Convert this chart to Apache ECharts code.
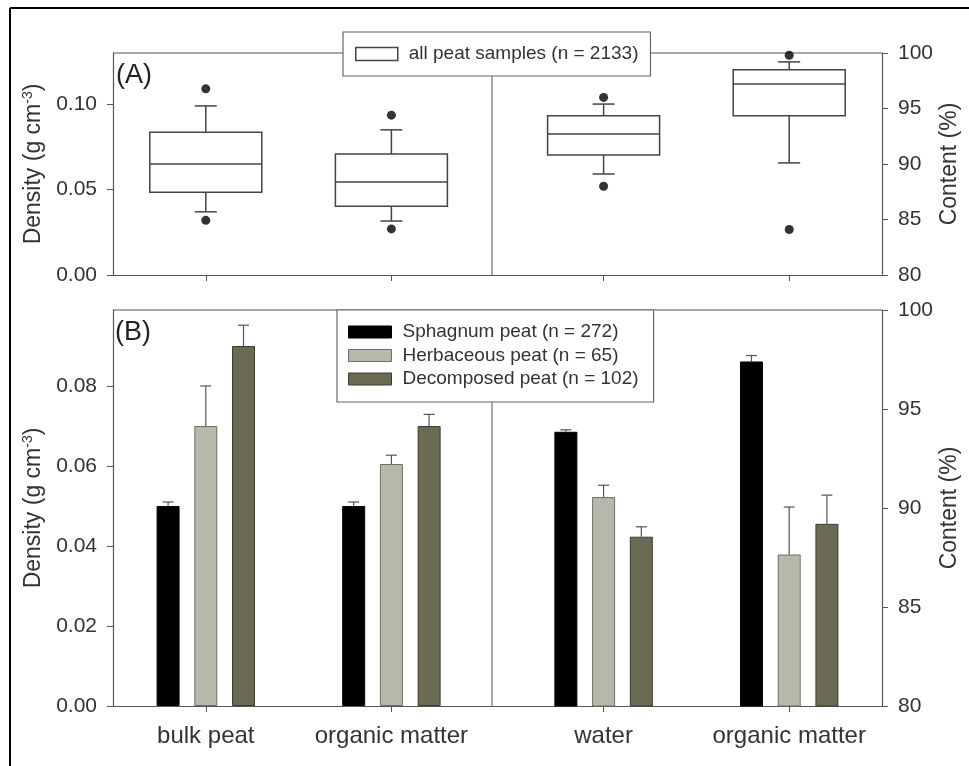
<!DOCTYPE html>
<html>
<head>
<meta charset="utf-8">
<script src="https://cdn.jsdelivr.net/npm/echarts@6/dist/echarts.min.js"></script>
<style>
  html, body { margin: 0; padding: 0; background: #fff; }
  #chart { width: 969px; height: 766px; }
</style>
</head>
<body>
<div id="chart"></div>
<script>
// ---- data -------------------------------------------------------------
const densityCats = ['bulk peat', 'organic matter'];
const contentCats = ['water', 'organic matter'];
const densityPos = [1, 3];   // group positions on the density half (0..5)
const contentPos = [2, 4];   // group positions on the content half (0..5)

// box statistics: [lower whisker, Q1, median, Q3, upper whisker]
const densityBox = [
  [0.037, 0.0484, 0.065, 0.0836, 0.099],
  [0.0316, 0.0402, 0.0544, 0.0708, 0.085]
];
const densityOutliers = [[0.032, 0.109], [0.027, 0.0936]];
const contentBox = [
  [89.1, 90.8, 92.7, 94.35, 95.4],
  [90.1, 94.35, 97.2, 98.5, 99.2]
];
const contentOutliers = [[88.0, 96.0], [84.1, 99.8]];

const boxName = 'all peat samples (n = 2133)';
const groupNames = ['Sphagnum peat (n = 272)', 'Herbaceous peat (n = 65)', 'Decomposed peat (n = 102)'];

const sphagnumDensity = [0.050, 0.050];
const sphagnumDensityErr = [0.001, 0.001];
const herbaceousDensity = [0.070, 0.0605];
const herbaceousDensityErr = [0.010, 0.0022];
const decomposedDensity = [0.090, 0.070];
const decomposedDensityErr = [0.0052, 0.0029];

const sphagnumContent = [93.85, 97.4];
const sphagnumContentErr = [0.1, 0.3];
const herbaceousContent = [90.55, 87.65];
const herbaceousContentErr = [0.6, 2.4];
const decomposedContent = [88.55, 89.2];
const decomposedContentErr = [0.5, 1.45];

const densityTicksTop = [0, 0.05, 0.10];
const densityTicksBottom = [0, 0.02, 0.04, 0.06, 0.08];

// ---- layout & style ---------------------------------------------------
const PLOT_L = 113, PLOT_R = 882, HALF_W = 464;
const TOP_Y = 53, TOP_H = 222;
const BOT_Y = 310, BOT_H = 396;
const DIVIDER_X = 492;
const AXIS_COLOR = '#555';
const TEXT_COLOR = '#333';
const FONT = 'Liberation Sans, Arial, sans-serif';
const BOX_W = 112, CAP_W = 22, ERR_CAP_W = 11;
const BAR_W = 23, BAR_GAP = 0.64;
const BAR_STEP = BAR_W * (1 + BAR_GAP);
const barColors = ['#000000', '#b8b8aa', '#6b6b53'];
const barBorders = ['#000000', '#6e6e66', '#3c3c2e'];

const chart = echarts.init(document.getElementById('chart'), null, { renderer: 'canvas' });

function grid(left, top, height) {
  return { left: left, top: top, width: HALF_W, height: height, containLabel: false };
}

function xAxis(gridIndex, pos, labels) {
  return {
    type: 'value', gridIndex: gridIndex, min: 0, max: 5,
    splitLine: { show: false },
    axisLine: { show: true, onZero: false, lineStyle: { color: AXIS_COLOR, width: 1.2 } },
    axisTick: { show: true, customValues: pos, length: 6, lineStyle: { color: AXIS_COLOR } },
    axisLabel: {
      show: !!labels, customValues: pos, margin: 18,
      fontSize: 24, color: TEXT_COLOR, fontFamily: FONT,
      formatter: v => labels ? labels[pos.indexOf(v)] : ''
    }
  };
}

function densityAxis(gridIndex, max, ticks) {
  return {
    type: 'value', gridIndex: gridIndex, position: 'left', min: 0, max: max,
    name: 'Density (g cm{sup|-3})', nameLocation: 'middle', nameGap: 66,
    nameTextStyle: {
      fontSize: 23, color: TEXT_COLOR, fontFamily: FONT,
      rich: { sup: { fontSize: 14, color: TEXT_COLOR, fontFamily: FONT, padding: [0, 0, 12, 0] } }
    },
    splitLine: { show: false },
    axisLine: { show: true, onZero: false, lineStyle: { color: AXIS_COLOR, width: 1.2 } },
    axisTick: { show: true, customValues: ticks, length: 6, lineStyle: { color: AXIS_COLOR } },
    axisLabel: { customValues: ticks, margin: 16, fontSize: 21, color: TEXT_COLOR, fontFamily: FONT,
      formatter: v => v.toFixed(2) }
  };
}

function contentAxis(gridIndex) {
  return {
    type: 'value', gridIndex: gridIndex, position: 'right', min: 80, max: 100, interval: 5,
    name: 'Content (%)', nameLocation: 'middle', nameGap: 56, nameRotate: 90,
    nameTextStyle: { fontSize: 23, color: TEXT_COLOR, fontFamily: FONT },
    splitLine: { show: false },
    axisLine: { show: true, onZero: false, lineStyle: { color: AXIS_COLOR, width: 1.2 } },
    axisTick: { show: true, length: 6, lineStyle: { color: AXIS_COLOR } },
    axisLabel: { margin: 16, fontSize: 21, color: TEXT_COLOR, fontFamily: FONT }
  };
}

// box-and-whisker glyph built from the axis scales
function renderBox(params, api) {
  const x = api.value(0);
  const lo = api.coord([x, api.value(1)]);
  const q1 = api.coord([x, api.value(2)]);
  const md = api.coord([x, api.value(3)]);
  const q3 = api.coord([x, api.value(4)]);
  const hi = api.coord([x, api.value(5)]);
  const cx = lo[0];
  const st = { stroke: '#444', lineWidth: 1.5, fill: null };
  return {
    type: 'group',
    children: [
      { type: 'rect', shape: { x: cx - BOX_W / 2, y: q3[1], width: BOX_W, height: q1[1] - q3[1] },
        style: { stroke: '#444', lineWidth: 1.5, fill: '#fff' } },
      { type: 'line', shape: { x1: cx - BOX_W / 2, y1: md[1], x2: cx + BOX_W / 2, y2: md[1] }, style: st },
      { type: 'line', shape: { x1: cx, y1: q3[1], x2: cx, y2: hi[1] }, style: st },
      { type: 'line', shape: { x1: cx - CAP_W / 2, y1: hi[1], x2: cx + CAP_W / 2, y2: hi[1] }, style: st },
      { type: 'line', shape: { x1: cx, y1: q1[1], x2: cx, y2: lo[1] }, style: st },
      { type: 'line', shape: { x1: cx - CAP_W / 2, y1: lo[1], x2: cx + CAP_W / 2, y2: lo[1] }, style: st }
    ]
  };
}

function boxSeries(axisIndex, pos, stats) {
  return {
    type: 'custom', name: boxName, xAxisIndex: axisIndex, yAxisIndex: axisIndex,
    itemStyle: { color: '#fff', borderColor: '#444', borderWidth: 1.5 },
    renderItem: renderBox,
    encode: { x: 0, y: [1, 2, 3, 4, 5] },
    data: stats.map((s, i) => [pos[i]].concat(s)),
    z: 3
  };
}

function outlierSeries(axisIndex, pos, outs) {
  const pts = [];
  outs.forEach((o, i) => o.forEach(v => pts.push([pos[i], v])));
  return {
    type: 'scatter', xAxisIndex: axisIndex, yAxisIndex: axisIndex,
    symbol: 'circle', symbolSize: 9, itemStyle: { color: '#000' },
    data: pts, z: 4, silent: true
  };
}

function barSeries(axisIndex, k, pos, values) {
  return {
    type: 'bar', name: groupNames[k], xAxisIndex: axisIndex, yAxisIndex: axisIndex,
    barWidth: BAR_W, barGap: (BAR_GAP * 100) + '%',
    itemStyle: { color: barColors[k], borderColor: barBorders[k], borderWidth: 1 },
    data: values.map((v, i) => [pos[i], v]),
    z: 2
  };
}

function errorSeries(axisIndex, k, pos, values, errs) {
  const offset = (k - 1) * BAR_STEP;
  return {
    type: 'custom', xAxisIndex: axisIndex, yAxisIndex: axisIndex, silent: true,
    renderItem: function (params, api) {
      const x = api.value(0), v = api.value(1), e = api.value(2);
      const base = api.coord([x, v]);
      const top = api.coord([x, v + e]);
      const cx = base[0] + offset;
      const st = { stroke: '#555', lineWidth: 1.2 };
      return {
        type: 'group',
        children: [
          { type: 'line', shape: { x1: cx, y1: base[1], x2: cx, y2: top[1] }, style: st },
          { type: 'line', shape: { x1: cx - ERR_CAP_W / 2, y1: top[1], x2: cx + ERR_CAP_W / 2, y2: top[1] }, style: st }
        ]
      };
    },
    encode: { x: 0, y: [1, 2] },
    data: values.map((v, i) => [pos[i], v, errs[i]]),
    z: 3
  };
}

const legendText = { fontSize: 19, color: TEXT_COLOR, fontFamily: FONT, lineHeight: 22, padding: [0, 0, 0, 6] };

const option = {
  animation: false,
  backgroundColor: '#fff',
  grid: [
    grid(PLOT_L, TOP_Y, TOP_H),
    grid(PLOT_R - HALF_W, TOP_Y, TOP_H),
    grid(PLOT_L, BOT_Y, BOT_H),
    grid(PLOT_R - HALF_W, BOT_Y, BOT_H)
  ],
  xAxis: [
    xAxis(0, densityPos, null),
    xAxis(1, contentPos, null),
    xAxis(2, densityPos, densityCats),
    xAxis(3, contentPos, contentCats)
  ],
  yAxis: [
    densityAxis(0, 0.13, densityTicksTop),
    contentAxis(1),
    densityAxis(2, 0.099, densityTicksBottom),
    contentAxis(3)
  ],
  legend: [
    {
      left: 343, top: 32, orient: 'horizontal',
      padding: [11, 12, 11, 12],
      backgroundColor: '#fff', borderColor: '#666', borderWidth: 1.2,
      itemWidth: 42, itemHeight: 13, selectedMode: false, z: 10,
      textStyle: legendText,
      data: [{ name: boxName, icon: 'rect', itemStyle: { color: '#fff', borderColor: '#444', borderWidth: 1.5 } }]
    },
    {
      left: 337, top: BOT_Y, orient: 'vertical',
      padding: [11, 15, 12, 11], itemGap: 1.5,
      backgroundColor: '#fff', borderColor: '#666', borderWidth: 1.2,
      itemWidth: 43, itemHeight: 12, selectedMode: false, z: 10,
      textStyle: legendText,
      data: groupNames.map((n, k) => ({ name: n, icon: 'rect',
        itemStyle: { color: barColors[k], borderColor: barBorders[k], borderWidth: 1 } }))
    }
  ],
  graphic: [
    // outer frame (left and top edges)
    { type: 'line', z: 1, shape: { x1: 10, y1: 8, x2: 10, y2: 766 }, style: { stroke: '#000', lineWidth: 2 } },
    { type: 'line', z: 1, shape: { x1: 10, y1: 8, x2: 969, y2: 8 }, style: { stroke: '#000', lineWidth: 2 } },
    // top edges of both panels
    { type: 'line', z: 1, shape: { x1: PLOT_L, y1: TOP_Y, x2: PLOT_R, y2: TOP_Y }, style: { stroke: AXIS_COLOR, lineWidth: 1.2 } },
    { type: 'line', z: 1, shape: { x1: PLOT_L, y1: BOT_Y, x2: PLOT_R, y2: BOT_Y }, style: { stroke: AXIS_COLOR, lineWidth: 1.2 } },
    // separators between the density and content halves
    { type: 'line', z: 1, shape: { x1: DIVIDER_X, y1: TOP_Y, x2: DIVIDER_X, y2: TOP_Y + TOP_H }, style: { stroke: AXIS_COLOR, lineWidth: 1 } },
    { type: 'line', z: 1, shape: { x1: DIVIDER_X, y1: BOT_Y, x2: DIVIDER_X, y2: BOT_Y + BOT_H }, style: { stroke: AXIS_COLOR, lineWidth: 1 } },
    // panel tags
    { type: 'text', z: 5, left: 116, top: 62, style: { text: '(A)', fontSize: 27, fill: '#222', fontFamily: FONT } },
    { type: 'text', z: 5, left: 115, top: 319, style: { text: '(B)', fontSize: 27, fill: '#222', fontFamily: FONT } }
  ],
  series: [
    boxSeries(0, densityPos, densityBox),
    outlierSeries(0, densityPos, densityOutliers),
    boxSeries(1, contentPos, contentBox),
    outlierSeries(1, contentPos, contentOutliers),

    barSeries(2, 0, densityPos, sphagnumDensity),
    barSeries(2, 1, densityPos, herbaceousDensity),
    barSeries(2, 2, densityPos, decomposedDensity),
    errorSeries(2, 0, densityPos, sphagnumDensity, sphagnumDensityErr),
    errorSeries(2, 1, densityPos, herbaceousDensity, herbaceousDensityErr),
    errorSeries(2, 2, densityPos, decomposedDensity, decomposedDensityErr),

    barSeries(3, 0, contentPos, sphagnumContent),
    barSeries(3, 1, contentPos, herbaceousContent),
    barSeries(3, 2, contentPos, decomposedContent),
    errorSeries(3, 0, contentPos, sphagnumContent, sphagnumContentErr),
    errorSeries(3, 1, contentPos, herbaceousContent, herbaceousContentErr),
    errorSeries(3, 2, contentPos, decomposedContent, decomposedContentErr)
  ]
};

chart.setOption(option);
</script>
</body>
</html>
